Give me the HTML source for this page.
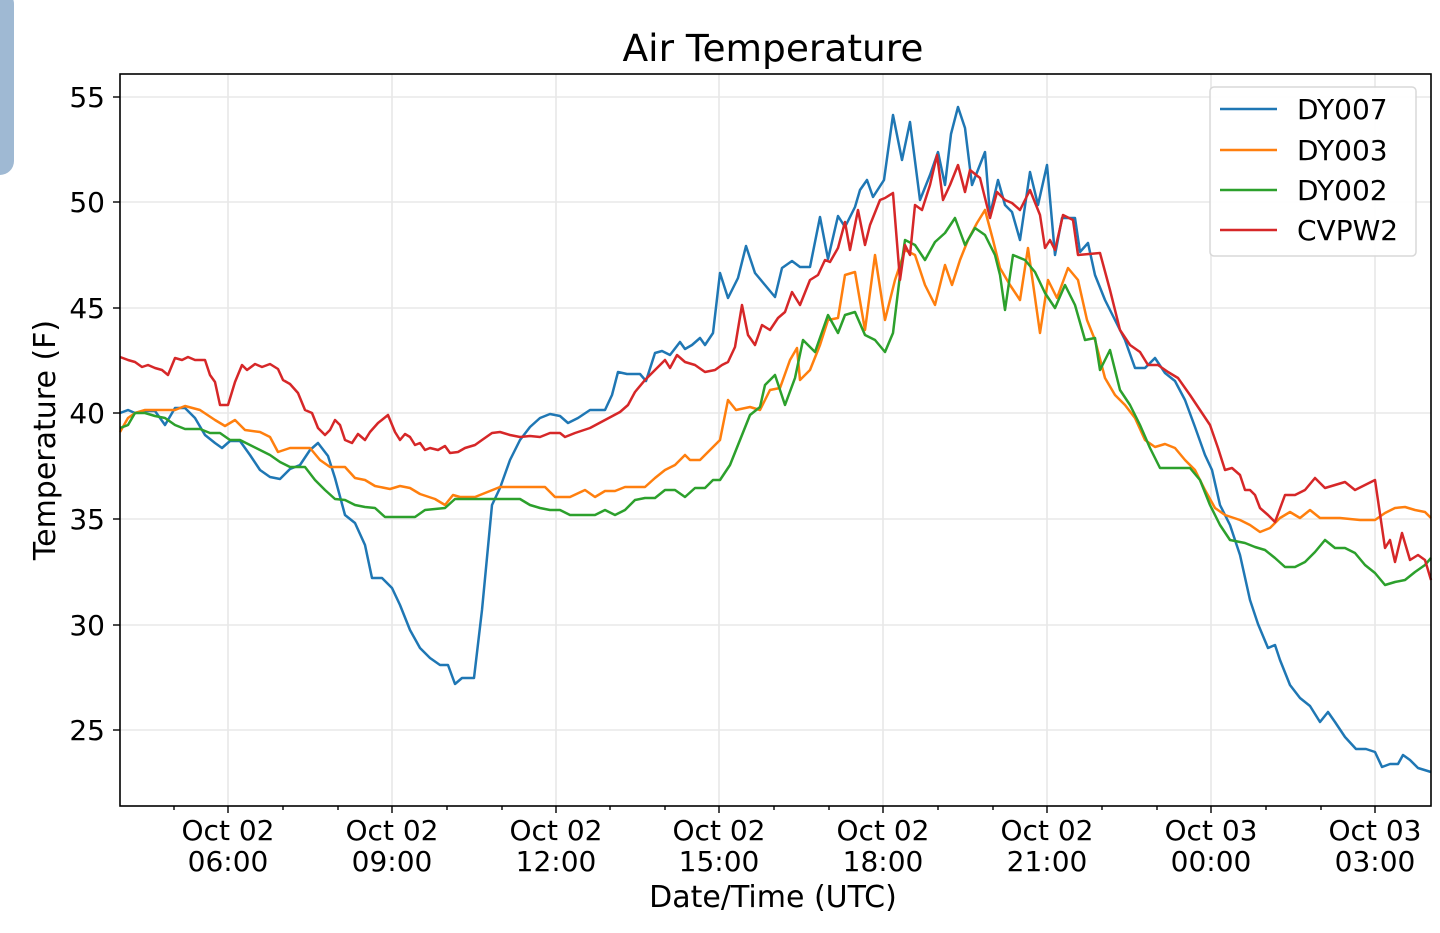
<!DOCTYPE html>
<html><head><meta charset="utf-8"><style>
html,body{margin:0;padding:0;background:#fff;width:1440px;height:933px;overflow:hidden}
svg{display:block;font-family:"DejaVu Sans","Liberation Sans",sans-serif}
</style></head><body>
<svg width="1440" height="933" viewBox="0 0 1440 933" xmlns="http://www.w3.org/2000/svg">
<rect x="-20" y="-10" width="34" height="185" rx="14" fill="#9fb9d3"/>
<text x="773" y="61" font-size="37.5" text-anchor="middle" fill="#000">Air Temperature</text>
<g stroke="#e8e8e8" stroke-width="1.6">
<line x1="228" y1="74" x2="228" y2="806"/><line x1="392" y1="74" x2="392" y2="806"/><line x1="556" y1="74" x2="556" y2="806"/><line x1="719" y1="74" x2="719" y2="806"/><line x1="883" y1="74" x2="883" y2="806"/><line x1="1047" y1="74" x2="1047" y2="806"/><line x1="1211" y1="74" x2="1211" y2="806"/><line x1="1375" y1="74" x2="1375" y2="806"/>
<line x1="120" y1="97" x2="1431" y2="97"/><line x1="120" y1="202" x2="1431" y2="202"/><line x1="120" y1="308" x2="1431" y2="308"/><line x1="120" y1="413" x2="1431" y2="413"/><line x1="120" y1="519" x2="1431" y2="519"/><line x1="120" y1="625" x2="1431" y2="625"/><line x1="120" y1="730" x2="1431" y2="730"/>
</g>
<g fill="none" stroke-width="2.5" stroke-linejoin="round">
<polyline stroke="#1f77b4" points="120,413 128,410 135,413 145,411 155,411 165,425 175,408 185,408 195,418 205,435 215,443 222,448 230,441 240,441 250,455 260,470 270,477 280,479 290,469 300,465 310,450 318,443 328,456 335,478 345,515 355,523 365,545 372,578 382,578 392,588 400,605 410,630 420,648 430,658 440,665 448,665 455,684 462,678 474,678 482,610 492,505 500,488 510,460 520,440 530,427 540,418 550,414 560,416 568,423 578,418 590,410 605,410 612,395 618,372 627,374 640,374 646,381 655,353 662,351 670,355 680,342 685,349 692,345 700,338 705,345 713,333 720,273 728,298 738,278 746,246 755,273 765,285 775,297 782,268 792,261 800,267 810,267 820,217 828,259 838,216 845,227 855,207 860,190 867,180 873,197 884,180 893,115 902,160 910,122 920,200 930,175 938,152 945,185 951,134 958,107 965,128 972,185 985,152 990,215 998,180 1005,205 1012,212 1020,240 1030,172 1038,205 1047,165 1055,255 1062,218 1075,218 1080,252 1088,243 1095,275 1105,300 1115,320 1125,340 1135,368 1145,368 1155,358 1165,373 1175,381 1185,400 1195,427 1205,455 1212,470 1220,505 1230,525 1240,555 1250,600 1258,624 1268,648 1275,645 1280,660 1290,685 1300,698 1310,706 1320,722 1328,712 1335,722 1345,737 1356,749 1366,749 1375,752 1382,767 1390,764 1398,764 1403,755 1410,760 1418,768 1431,772"/>
<polyline stroke="#ff7f0e" points="120,432 128,418 135,413 145,410 175,410 185,406 200,410 215,420 225,426 235,420 245,430 260,432 270,437 278,452 290,448 310,448 320,460 330,467 345,467 355,478 365,480 375,486 390,489 400,486 410,488 420,494 435,499 445,505 453,495 460,497 475,497 490,491 500,487 545,487 555,497 570,497 585,490 595,497 605,491 615,491 625,487 645,487 655,478 665,470 675,465 685,455 690,460 700,460 710,450 720,440 728,400 736,410 750,407 760,410 770,390 780,388 790,360 797,348 800,380 810,370 820,345 828,320 838,318 845,275 855,272 865,330 875,255 885,320 895,280 905,250 915,255 925,285 935,305 945,265 952,285 960,260 968,240 977,223 985,210 993,240 1000,268 1010,285 1020,300 1028,248 1040,333 1048,280 1057,298 1068,268 1078,280 1087,320 1095,340 1105,378 1115,395 1125,405 1135,418 1145,440 1155,447 1165,444 1175,448 1185,460 1195,470 1205,490 1215,508 1225,515 1240,520 1250,525 1260,532 1270,528 1280,518 1290,512 1300,518 1310,510 1320,518 1340,518 1360,520 1375,520 1385,513 1395,508 1405,507 1415,510 1425,512 1431,518"/>
<polyline stroke="#2ca02c" points="120,428 128,425 135,413 145,413 155,416 165,418 175,425 185,429 200,429 210,433 220,433 230,440 240,440 250,445 260,450 270,455 280,462 290,467 305,467 315,480 325,490 335,499 345,500 355,505 365,507 375,508 385,517 415,517 425,510 445,508 455,499 520,499 530,505 540,508 550,510 560,510 570,515 595,515 605,510 615,515 625,510 635,500 645,498 655,498 665,490 675,490 685,497 695,488 705,488 713,480 720,480 730,465 740,440 750,415 760,407 765,385 775,375 785,405 795,378 803,340 815,352 828,315 838,333 845,315 855,312 865,335 875,340 885,352 893,333 900,275 905,240 915,245 925,260 935,242 945,233 955,218 965,245 975,228 985,235 995,255 1000,275 1005,310 1013,255 1025,260 1035,272 1045,293 1055,308 1065,285 1075,305 1085,340 1095,338 1100,370 1110,350 1120,390 1130,405 1140,425 1150,448 1160,468 1190,468 1200,480 1210,505 1220,525 1230,540 1245,543 1255,547 1265,550 1275,558 1285,567 1295,567 1305,562 1315,552 1325,540 1335,548 1345,548 1355,553 1365,565 1375,573 1385,585 1395,582 1405,580 1415,572 1425,565 1431,558"/>
<polyline stroke="#d62728" points="120,357 128,360 135,362 142,367 148,365 155,368 162,370 168,375 175,358 182,360 188,357 195,360 205,360 210,375 215,382 220,405 228,405 235,382 242,365 247,370 255,364 262,367 270,364 278,369 283,380 290,384 298,393 305,410 312,413 318,428 325,435 330,430 335,420 340,425 345,440 352,443 358,434 365,440 370,432 378,423 388,415 395,432 400,440 405,434 410,437 415,445 420,443 425,450 430,448 438,450 445,446 450,453 458,452 465,448 475,445 482,440 492,433 500,432 510,435 520,437 530,436 540,437 550,433 560,433 565,437 575,433 590,428 605,420 620,412 628,405 635,392 645,380 655,370 665,360 670,368 677,355 685,362 695,365 705,372 715,370 722,365 728,362 735,347 742,305 748,335 755,345 762,325 770,330 778,318 785,312 792,292 800,305 810,280 818,275 825,260 830,262 838,248 845,222 850,250 858,210 865,245 870,225 880,200 885,198 893,193 900,280 905,245 910,255 915,205 922,210 930,185 937,155 943,200 950,185 958,165 965,192 970,170 980,178 990,218 997,192 1005,200 1012,203 1020,210 1030,190 1040,215 1045,248 1050,240 1055,250 1063,215 1073,220 1078,255 1100,253 1110,290 1120,330 1130,345 1140,352 1148,365 1158,365 1168,372 1178,378 1190,395 1200,410 1210,425 1218,448 1225,470 1232,468 1240,475 1245,490 1250,490 1255,495 1260,508 1268,515 1275,522 1285,495 1295,495 1305,490 1315,478 1325,488 1335,485 1345,482 1355,490 1365,485 1375,480 1385,548 1390,540 1395,562 1402,533 1410,560 1418,555 1425,560 1431,580"/>
</g>
<rect x="120" y="74" width="1311" height="732" fill="none" stroke="#000" stroke-width="1.6"/>
<g stroke="#000" stroke-width="1.4">
<line x1="113" y1="97" x2="120" y2="97"/><line x1="113" y1="202" x2="120" y2="202"/><line x1="113" y1="308" x2="120" y2="308"/><line x1="113" y1="413" x2="120" y2="413"/><line x1="113" y1="519" x2="120" y2="519"/><line x1="113" y1="625" x2="120" y2="625"/><line x1="113" y1="730" x2="120" y2="730"/>
<line x1="228" y1="806" x2="228" y2="813"/><line x1="392" y1="806" x2="392" y2="813"/><line x1="556" y1="806" x2="556" y2="813"/><line x1="719" y1="806" x2="719" y2="813"/><line x1="883" y1="806" x2="883" y2="813"/><line x1="1047" y1="806" x2="1047" y2="813"/><line x1="1211" y1="806" x2="1211" y2="813"/><line x1="1375" y1="806" x2="1375" y2="813"/>
<line x1="174" y1="806" x2="174" y2="810"/><line x1="283" y1="806" x2="283" y2="810"/><line x1="338" y1="806" x2="338" y2="810"/><line x1="447" y1="806" x2="447" y2="810"/><line x1="502" y1="806" x2="502" y2="810"/><line x1="610" y1="806" x2="610" y2="810"/><line x1="665" y1="806" x2="665" y2="810"/><line x1="774" y1="806" x2="774" y2="810"/><line x1="829" y1="806" x2="829" y2="810"/><line x1="938" y1="806" x2="938" y2="810"/><line x1="993" y1="806" x2="993" y2="810"/><line x1="1102" y1="806" x2="1102" y2="810"/><line x1="1157" y1="806" x2="1157" y2="810"/><line x1="1266" y1="806" x2="1266" y2="810"/><line x1="1321" y1="806" x2="1321" y2="810"/>
</g>
<g font-size="28" fill="#000" text-anchor="end">
<text x="105" y="107">55</text><text x="105" y="212">50</text><text x="105" y="318">45</text><text x="105" y="423">40</text><text x="105" y="529">35</text><text x="105" y="635">30</text><text x="105" y="740">25</text>
</g>
<g font-size="28" fill="#000" text-anchor="middle">
<text x="228" y="840">Oct 02</text><text x="228" y="871">06:00</text>
<text x="392" y="840">Oct 02</text><text x="392" y="871">09:00</text>
<text x="556" y="840">Oct 02</text><text x="556" y="871">12:00</text>
<text x="719" y="840">Oct 02</text><text x="719" y="871">15:00</text>
<text x="883" y="840">Oct 02</text><text x="883" y="871">18:00</text>
<text x="1047" y="840">Oct 02</text><text x="1047" y="871">21:00</text>
<text x="1211" y="840">Oct 03</text><text x="1211" y="871">00:00</text>
<text x="1375" y="840">Oct 03</text><text x="1375" y="871">03:00</text>
<text x="773" y="907" font-size="30">Date/Time (UTC)</text>
<text transform="translate(55,440) rotate(-90)" font-size="30">Temperature (F)</text>
</g>
<rect x="1210" y="87" width="206" height="169" rx="4" fill="#fff" fill-opacity="0.9" stroke="#d8d8d8" stroke-width="1.5"/>
<g stroke-width="2.5">
<line x1="1220" y1="109" x2="1277" y2="109" stroke="#1f77b4"/>
<line x1="1220" y1="150" x2="1277" y2="150" stroke="#ff7f0e"/>
<line x1="1220" y1="190" x2="1277" y2="190" stroke="#2ca02c"/>
<line x1="1220" y1="230" x2="1277" y2="230" stroke="#d62728"/>
</g>
<g font-size="28" fill="#000">
<text x="1297" y="119">DY007</text><text x="1297" y="160">DY003</text><text x="1297" y="200">DY002</text><text x="1297" y="240">CVPW2</text>
</g>
</svg>
</body></html>
